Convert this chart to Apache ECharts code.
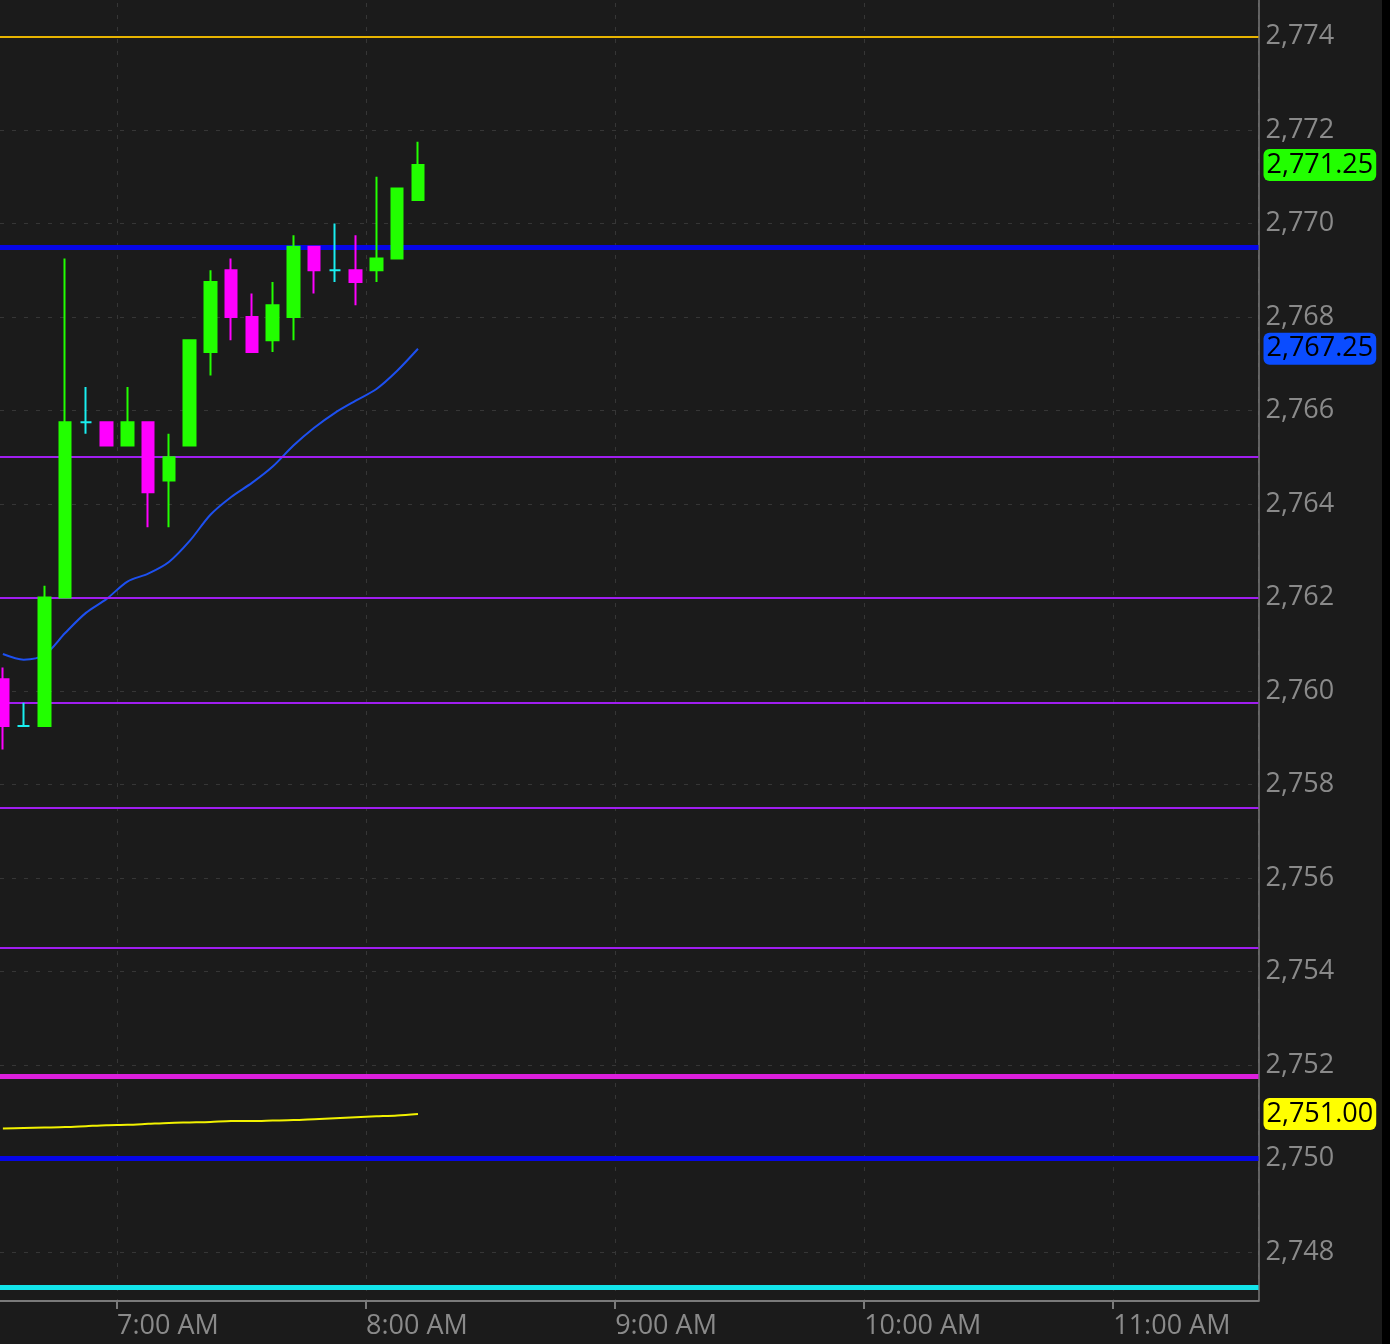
<!DOCTYPE html>
<html>
<head>
<meta charset="utf-8">
<script src="https://cdn.jsdelivr.net/npm/echarts@6/dist/echarts.min.js"></script>
<style>
  html, body { margin: 0; padding: 0; background: #1b1b1b; }
  #chart { width: 1390px; height: 1344px; }
</style>
</head>
<body>
<div id="chart"></div>
<script>
// 5分钟K线 (开始时间)
const times  = ['6:30','6:35','6:40','6:45','6:50','6:55','7:00','7:05','7:10','7:15','7:20',
                '7:25','7:30','7:35','7:40','7:45','7:50','7:55','8:00','8:05','8:10'];
const opens  = [2760.25,2759.25,2759.25,2762.00,2765.75,2765.75,2765.25,2765.75,2764.50,2765.25,2767.25,
                2769.00,2768.00,2767.50,2768.00,2769.50,2769.00,2769.00,2769.00,2769.25,2770.50];
const closes = [2759.25,2759.25,2762.00,2765.75,2765.75,2765.25,2765.75,2764.25,2765.00,2767.50,2768.75,
                2768.00,2767.25,2768.25,2769.50,2769.00,2769.00,2768.75,2769.25,2770.75,2771.25];
const lows   = [2758.75,2759.25,2759.25,2762.00,2765.50,2765.25,2765.25,2763.50,2763.50,2765.25,2766.75,
                2767.50,2767.25,2767.25,2767.50,2768.50,2768.75,2768.25,2768.75,2769.25,2770.50];
const highs  = [2760.50,2759.75,2762.25,2769.25,2766.50,2765.75,2766.50,2765.75,2765.50,2767.50,2769.00,
                2769.25,2768.50,2768.75,2769.75,2769.50,2770.00,2769.75,2771.00,2770.75,2771.75];

// 均线
const maFast = [2760.79,2760.67,2760.77,2761.24,2761.67,2761.97,2762.34,2762.51,2762.76,2763.21,2763.77,
                2764.15,2764.45,2764.80,2765.25,2765.63,2765.95,2766.21,2766.46,2766.85,2767.32];
const maSlow = [2750.64,2750.65,2750.66,2750.67,2750.69,2750.71,2750.72,2750.74,2750.76,2750.77,2750.78,
                2750.80,2750.80,2750.81,2750.82,2750.84,2750.86,2750.88,2750.90,2750.92,2750.95];

// 水平价位线
const goldLevels    = [2774];
const blueLevels    = [2769.5, 2750];
const purpleLevels  = [2765, 2762, 2759.75, 2757.5, 2754.5];
const magentaLevels = [2751.75];
const cyanLevels    = [2747.25];

const FONT = '"Open Sans", "DejaVu Sans", sans-serif';
const UP = '#22ff00', DOWN = '#ff00ff', DOJI = '#19eef0';

function toMinutes(t) {
    const p = t.split(':');
    return (+p[0]) * 60 + (+p[1]);
}
// K线画在时段中间
const xs = times.map(t => toMinutes(t) + 2.5);

const candleData = times.map((t, i) => {
    const item = { value: [xs[i], opens[i], closes[i], lows[i], highs[i]] };
    if (opens[i] === closes[i]) {
        item.itemStyle = { color: DOJI, color0: DOJI, borderColor: DOJI, borderColor0: DOJI };
    }
    return item;
});

function levelLines(values, color, width) {
    return values.map(v => ({ yAxis: v, lineStyle: { color: color, width: width, type: 'solid' } }));
}

function priceTag(v, bg) {
    return {
        yAxis: v,
        lineStyle: { color: 'rgba(0,0,0,0)', width: 0 },
        label: {
            show: true, position: 'end', distance: 5, opacity: 1,
            formatter: () => (Math.round(v * 4) / 4).toLocaleString('en-US', { minimumFractionDigits: 2, maximumFractionDigits: 2 }),
            backgroundColor: bg, color: '#000', borderRadius: 6,
            fontFamily: FONT, fontSize: 27, lineHeight: 28, padding: [2, 3, 2, 3]
        }
    };
}

const levelData = [].concat(
    levelLines(goldLevels, '#e8b400', 2),
    levelLines(purpleLevels, '#a01ef0', 2),
    levelLines(blueLevels, '#0606e8', 5),
    levelLines(magentaLevels, '#dd1fdd', 5),
    levelLines(cyanLevels, '#12e4ea', 5)
);

function fmtTime(v) {
    const h = Math.floor(v / 60), m = Math.round(v % 60);
    const h12 = h % 12 === 0 ? 12 : h % 12;
    return h12 + ':' + (m < 10 ? '0' : '') + m + (h < 12 ? ' AM' : ' PM');
}

const myChart = echarts.init(document.getElementById('chart'));
const option = {
    backgroundColor: '#1b1b1b',
    animation: false,
    grid: { left: -132, right: 131.5, top: -57, bottom: 43, outerBoundsMode: 'none', containLabel: false },
    xAxis: {
        type: 'value', min: 360, max: 695, interval: 60,
        axisLine: { show: true, lineStyle: { color: '#7a7a7a', width: 2 } },
        axisTick: { show: true, length: 8, lineStyle: { color: '#7a7a7a', width: 2 } },
        axisLabel: {
            color: '#8a8a8a', fontFamily: FONT, fontSize: 27, align: 'left', margin: 12,
            showMinLabel: false, showMaxLabel: false, formatter: fmtTime
        },
        splitLine: { show: true, lineStyle: { color: '#363636', width: 1, type: [4, 8] } }
    },
    yAxis: {
        type: 'value', position: 'right', min: 2746.95, max: 2776,
        minInterval: 2, maxInterval: 2,
        axisLine: { show: true, lineStyle: { color: '#7a7a7a', width: 1.5 } },
        axisTick: { show: false },
        axisLabel: {
            color: '#8a8a8a', fontFamily: FONT, fontSize: 27, margin: 7, padding: [5, 0, 0, 0],
            showMinLabel: false, showMaxLabel: false,
            formatter: v => v.toLocaleString('en-US')
        },
        splitLine: { show: true, lineStyle: { color: '#363636', width: 1, type: [4, 8] } }
    },
    graphic: [{
        type: 'rect', right: 0, top: 0, z: 100,
        shape: { width: 8, height: 1344 }, style: { fill: '#000' }
    }],
    series: [
        {
            name: 'slow', type: 'line', z: 2, clip: false,
            data: xs.map((x, i) => [x, maSlow[i]]),
            showSymbol: false, smooth: 0.3,
            lineStyle: { color: '#f2f200', width: 2 },
            markLine: {
                silent: true, symbol: 'none', animation: false,
                label: { show: false },
                data: levelData.concat([priceTag(maSlow[maSlow.length - 1], '#ffff00')])
            }
        },
        {
            name: 'fast', type: 'line', z: 4, clip: false,
            data: xs.map((x, i) => [x, maFast[i]]),
            showSymbol: false, smooth: 0.3,
            lineStyle: { color: '#1d50f0', width: 2 },
            markLine: {
                silent: true, symbol: 'none', animation: false,
                label: { show: false },
                data: [priceTag(maFast[maFast.length - 1], '#0a4cff')]
            }
        },
        {
            name: 'price', type: 'candlestick', z: 5, clip: false,
            barWidth: 12,
            itemStyle: { color: UP, color0: DOWN, borderColor: UP, borderColor0: DOWN, borderWidth: 2 },
            data: candleData,
            markLine: {
                silent: true, symbol: 'none', animation: false,
                label: { show: false },
                data: [priceTag(closes[closes.length - 1], UP)]
            }
        }
    ]
};
myChart.setOption(option);
</script>
</body>
</html>
